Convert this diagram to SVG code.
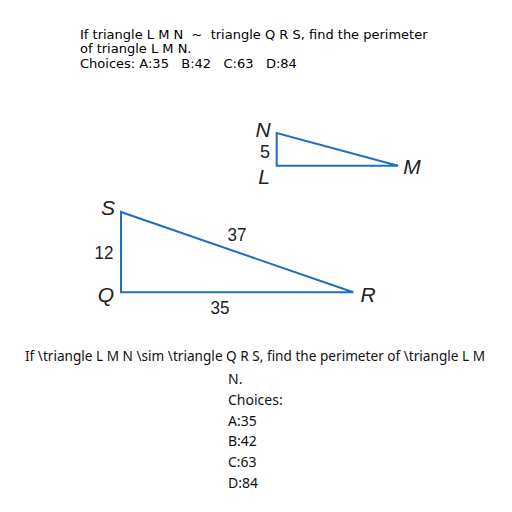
<svg xmlns="http://www.w3.org/2000/svg" width="512" height="512" viewBox="0 0 512 512">
<style>
.q{font-family:"DejaVu Sans",sans-serif;font-size:13px;fill:#000;white-space:pre}
.b{font-family:"Noto Sans","Open Sans",sans-serif;font-size:14px;fill:#111}
.tri{fill:none;stroke:#1f6fbf;stroke-width:2;stroke-linejoin:miter}
.lbl{font-family:"Liberation Sans",Arial,sans-serif;font-style:italic;font-size:21px;fill:#222}
.num{font-family:"Liberation Sans",Arial,sans-serif;font-size:18px;fill:#222}
</style>
<rect width="512" height="512" fill="#fff"/>
<g id="question">
<text class="q" x="80" y="39" xml:space="preserve">If triangle L M N  ~  triangle Q R S, find the perimeter</text>
<text class="q" x="80" y="53">of triangle L M N.</text>
<text class="q" x="80" y="68" xml:space="preserve">Choices: A:35   B:42   C:63   D:84</text>
</g>
<g id="triangle-LMN">
<polygon class="tri" points="276.7,133 276.7,165.7 398,165.7"/>
<text class="lbl" x="263" y="137" text-anchor="middle">N</text>
<text class="num" x="265" y="158" text-anchor="middle" textLength="10" lengthAdjust="spacingAndGlyphs">5</text>
<text class="lbl" x="264" y="184" text-anchor="middle">L</text>
<text class="lbl" x="412" y="174" text-anchor="middle">M</text>
</g>
<g id="triangle-QRS">
<polygon class="tri" points="121,212 121,292.3 353.3,292.3"/>
<text class="lbl" x="108" y="215" text-anchor="middle">S</text>
<text class="num" x="104" y="259" text-anchor="middle" textLength="19" lengthAdjust="spacingAndGlyphs">12</text>
<text class="lbl" x="106" y="302" text-anchor="middle">Q</text>
<text class="lbl" x="368" y="302" text-anchor="middle">R</text>
<text class="num" x="237" y="241" text-anchor="middle" textLength="19" lengthAdjust="spacingAndGlyphs">37</text>
<text class="num" x="220" y="314" text-anchor="middle" textLength="19" lengthAdjust="spacingAndGlyphs">35</text>
</g>
<g id="caption">
<text class="b" x="25" y="361" textLength="460" lengthAdjust="spacingAndGlyphs">If \triangle L M N \sim \triangle Q R S, find the perimeter of \triangle L M</text>
<text class="b" x="228" y="384">N.</text>
<text class="b" x="228" y="404.5">Choices:</text>
<text class="b" x="228" y="425.5">A:35</text>
<text class="b" x="228" y="446">B:42</text>
<text class="b" x="228" y="467">C:63</text>
<text class="b" x="228" y="488">D:84</text>
</g>
</svg>
